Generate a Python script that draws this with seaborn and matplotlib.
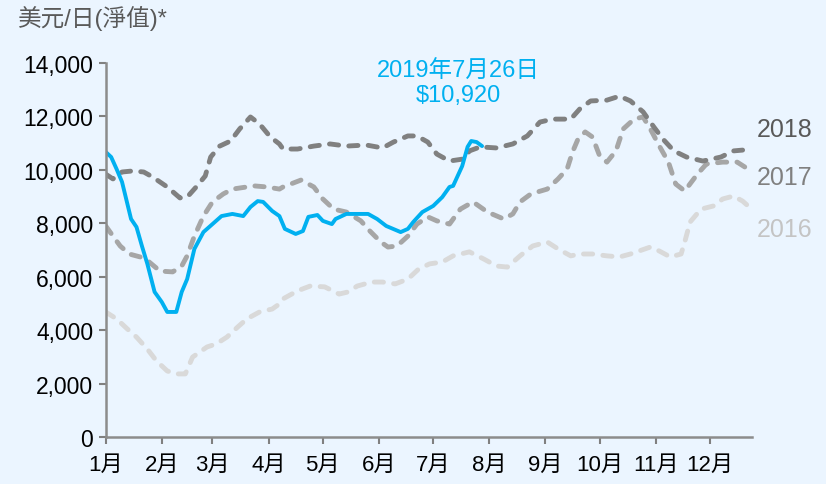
import matplotlib
matplotlib.use('Agg')
import matplotlib.pyplot as plt
import seaborn as sns

# 每日收益 (美元/日), x = 一年中的第幾天
days_2019 = [0, 3, 6, 9, 14, 17, 20, 23, 27, 31, 34, 39, 42, 45, 49, 54, 59, 64, 70, 76,
             80, 84, 87, 92, 96, 99, 105, 109, 112, 117, 120, 125, 127, 133, 145, 150,
             155, 163, 167, 170, 175, 181, 186, 190, 192, 197, 200, 202, 205, 208]
vals_2019 = [10670, 10480, 10030, 9550, 8160, 7860, 7150, 6480, 5430, 5050, 4680, 4680,
             5430, 5910, 7040, 7670, 7970, 8270, 8350, 8270, 8610, 8830, 8800, 8460, 8270,
             7790, 7600, 7710, 8240, 8310, 8090, 7970, 8160, 8350, 8350, 8160, 7900, 7670,
             7790, 8050, 8420, 8650, 8980, 9360, 9400, 10140, 10860, 11080, 11040, 10890]

days_2018 = [0, 4, 9, 15, 21, 26, 34, 41, 45, 50, 55, 58, 63, 69, 74, 80, 85, 91, 96, 98,
             106, 115, 124, 133, 144, 153, 159, 167, 172, 178, 183, 190, 198, 201, 207,
             216, 225, 233, 240, 247, 257, 262, 268, 277, 284, 290, 297, 303, 308, 314,
             321, 330, 340, 347, 352]
vals_2018 = [9840, 9660, 9920, 9960, 9920, 9730, 9360, 8950, 8980, 9360, 9770, 10480,
             10890, 11080, 11530, 11980, 11720, 11230, 10970, 10780, 10780, 10890, 10970,
             10890, 10930, 10820, 11040, 11270, 11270, 11040, 10590, 10330, 10410, 10710,
             10860, 10820, 10970, 11270, 11790, 11900, 11900, 12280, 12580, 12610, 12760,
             12580, 12170, 11600, 11150, 10710, 10480, 10330, 10480, 10710, 10740]

days_2017 = [0, 4, 8, 13, 19, 24, 30, 37, 42, 45, 49, 54, 59, 65, 70, 78, 82, 89, 96, 98,
             108, 115, 120, 126, 133, 141, 146, 152, 156, 161, 167, 172, 178, 183, 190,
             196, 203, 211, 220, 225, 229, 235, 244, 250, 255, 258, 261, 265, 269, 273,
             277, 282, 286, 292, 297, 301, 306, 311, 315, 320, 327, 332, 341, 349, 355]
vals_2017 = [7900, 7520, 7150, 6850, 6740, 6550, 6210, 6180, 6400, 6780, 7520, 8270,
             8800, 9100, 9280, 9360, 9400, 9360, 9280, 9360, 9620, 9360, 8910, 8530, 8420,
             8090, 7710, 7300, 7110, 7150, 7520, 7970, 8240, 8090, 7970, 8530, 8800, 8420,
             8160, 8350, 8800, 9100, 9280, 9660, 10030, 10670, 11150, 11420, 11230, 10520,
             10290, 10710, 11530, 11900, 11980, 11530, 10890, 10290, 9470, 9210, 9840,
             10220, 10290, 10290, 10030]

days_2016 = [0, 6, 12, 17, 23, 28, 34, 39, 44, 48, 56, 61, 67, 73, 78, 85, 92, 96, 98,
             106, 113, 121, 129, 134, 139, 147, 153, 160, 167, 173, 179, 186, 192, 201,
             209, 216, 222, 229, 236, 244, 250, 257, 262, 269, 277, 284, 290, 301, 306,
             312, 318, 320, 323, 329, 336, 341, 347, 352, 355]
vals_2016 = [4680, 4420, 4040, 3740, 3290, 2850, 2470, 2360, 2360, 2990, 3370, 3480,
             3740, 4120, 4420, 4680, 4790, 4980, 5170, 5470, 5650, 5620, 5350, 5430, 5650,
             5800, 5800, 5730, 5910, 6290, 6480, 6550, 6780, 6930, 6660, 6400, 6360, 6780,
             7150, 7300, 7040, 6780, 6850, 6850, 6780, 6740, 6850, 7110, 6960, 6740, 6850,
             7300, 8050, 8530, 8650, 8910, 9020, 8830, 8650]

month_starts = [0, 31, 59, 90, 120, 151, 181, 212, 243, 273, 304, 334]
month_labels = [f'{m}月' for m in range(1, 13)]
y_ticks = [0, 2000, 4000, 6000, 8000, 10000, 12000, 14000]

bg = '#EBF5FF'
sns.set_style('ticks', {'axes.facecolor': bg, 'figure.facecolor': bg})
plt.rcParams['font.family'] = ['Liberation Sans', 'Noto Sans CJK TC']

fig = plt.figure(figsize=(8.26, 4.85), dpi=100)
ax = fig.add_axes([0.128, 0.097, 0.782, 0.771])

dashed = [
    (days_2016, vals_2016, '#D9D9D9'),
    (days_2017, vals_2017, '#A6A6A6'),
    (days_2018, vals_2018, '#808080'),
]
for d, v, c in dashed:
    sns.lineplot(x=d, y=v, ax=ax, color=c, linewidth=3.5, estimator=None,
                 dash_capstyle='round')
    ax.lines[-1].set_dashes((1.9, 2.1))

sns.lineplot(x=days_2019, y=vals_2019, ax=ax, color='#00B0F0', linewidth=2.8,
             estimator=None, solid_capstyle='round', solid_joinstyle='round')

ax.set_xlim(0, 357)
ax.set_ylim(0, 14000)
ax.set_xticks(month_starts)
ax.set_xticklabels(month_labels)
ax.set_yticks(y_ticks)
ax.set_yticklabels([f'{t:,}' for t in y_ticks])
ax.tick_params(axis='both', labelsize=16.5, colors='#808080', width=1.5, length=5,
               labelcolor='black')
ax.tick_params(axis='x', pad=7, labelsize=16)
ax.tick_params(axis='y', pad=4)
for s in ['top', 'right']:
    ax.spines[s].set_visible(False)
for s in ['left', 'bottom']:
    ax.spines[s].set_color('#8C8C8C')
    ax.spines[s].set_linewidth(1.8)
ax.set_xlabel('')
ax.set_ylabel('')

# 標籤
ax.text(195, 13250, '2019年7月26日\n$10,920', color='#00B0F0', fontsize=17,
        ha='center', va='center', linespacing=1.1)
ax.text(360, 11530, '2018', color='#595959', fontsize=18, va='center', clip_on=False)
ax.text(360, 9730, '2017', color='#808080', fontsize=18, va='center', clip_on=False)
ax.text(360, 7790, '2016', color='#C4C4C4', fontsize=18, va='center', clip_on=False)

fig.text(0.022, 0.988, '美元/日(淨值)*', color='#595959', fontsize=17, va='top', ha='left')

fig.savefig('out.png', dpi=100, facecolor=bg)
